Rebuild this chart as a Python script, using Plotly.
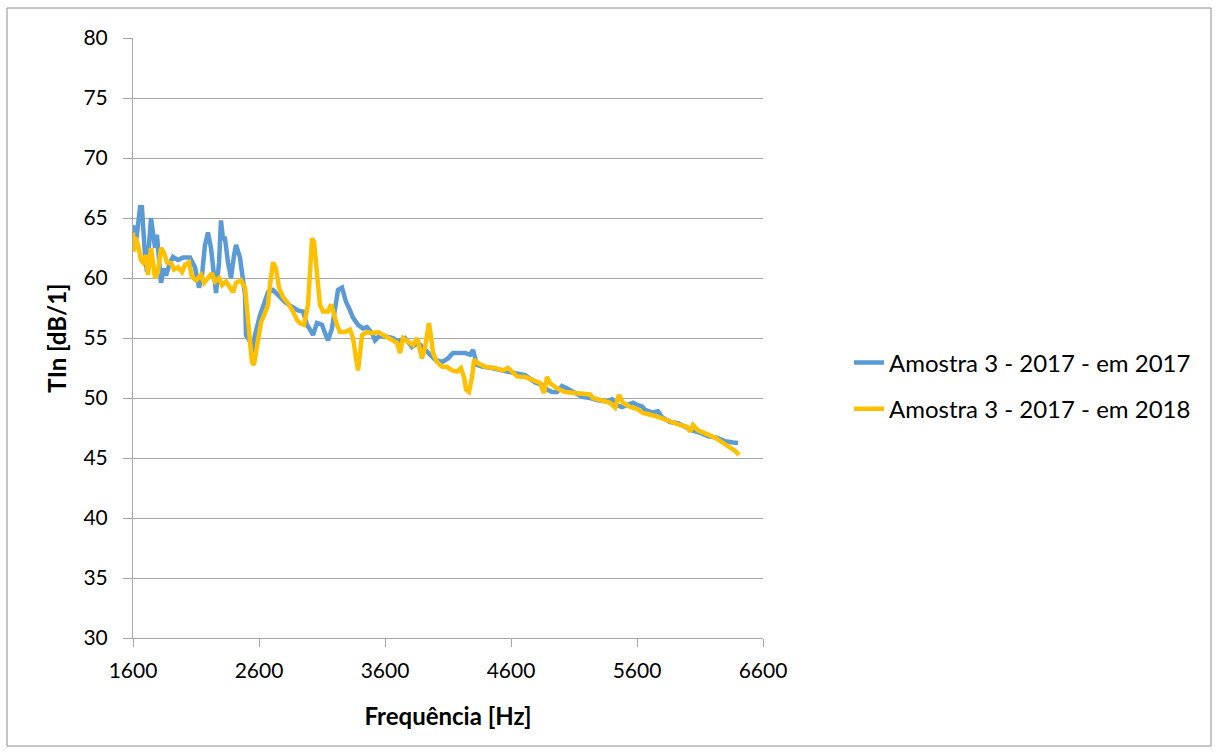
import plotly.graph_objects as go

# Amostra 3 - 2017, measured in 2017
freq_2017 = [1600, 1624, 1656, 1671, 1695, 1711, 1743, 1759, 1775, 1790, 1822, 1846, 1862, 1894,
             1917, 1957, 1997, 2052, 2092, 2124, 2148, 2171, 2195, 2219, 2243, 2259, 2283, 2298,
             2314, 2330, 2354, 2378, 2402, 2418, 2449, 2465, 2489, 2497, 2529, 2544, 2568, 2608,
             2648, 2671, 2711, 2751, 2806, 2862, 2910, 2949, 2981, 3005, 3029, 3060, 3100, 3124,
             3148, 3179, 3203, 3227, 3259, 3291, 3314, 3346, 3386, 3425, 3457, 3497, 3521, 3561,
             3616, 3664, 3703, 3759, 3814, 3862, 3902, 3941, 3997, 4053, 4100, 4140, 4180, 4235,
             4275, 4299, 4330, 4378, 4449, 4513, 4568, 4616, 4688, 4711, 4791, 4846, 4886, 4926,
             4965, 5005, 5045, 5092, 5164, 5227, 5291, 5362, 5402, 5442, 5481, 5521, 5569, 5608,
             5640, 5664, 5719, 5767, 5799, 5862, 5926, 5981, 6037, 6100, 6164, 6235, 6299, 6362,
             6402]
tln_2017 = [64.4, 63.0, 65.9, 65.9, 61.9, 60.5, 65.0, 63.8, 62.5, 63.6, 59.6, 60.8, 60.2, 61.3,
            61.75, 61.5, 61.7, 61.7, 60.9, 59.2, 60.25, 62.75, 63.8, 62.5, 60.25, 58.75, 61.3, 64.8,
            63.3, 63.3, 61.3, 60.0, 61.9, 62.75, 61.7, 60.25, 58.6, 55.25, 54.7, 53.8, 55.25, 56.9,
            58.3, 58.8, 59.0, 58.6, 58.0, 57.6, 57.3, 57.2, 56.1, 55.7, 55.25, 56.25, 56.1, 55.4,
            54.8, 55.8, 57.5, 59.0, 59.2, 58.0, 57.5, 56.7, 56.1, 55.8, 55.9, 55.4, 54.8, 55.25,
            55.1, 55.0, 54.7, 55.0, 54.25, 54.6, 54.2, 53.75, 53.2, 53.0, 53.3, 53.75, 53.75, 53.75,
            53.6, 54.0, 52.75, 52.6, 52.5, 52.3, 52.2, 52.1, 51.9, 51.9, 51.3, 51.1, 50.7, 50.5,
            50.5, 51.0, 50.8, 50.5, 50.1, 50.0, 49.8, 49.7, 49.9, 49.4, 49.25, 49.4, 49.6, 49.4,
            49.3, 49.0, 48.8, 48.9, 48.4, 48.0, 47.9, 47.6, 47.3, 47.1, 46.8, 46.7, 46.4, 46.3,
            46.25]

# Amostra 3 - 2017, measured in 2018
freq_2018 = [1600, 1608, 1616, 1640, 1663, 1679, 1703, 1719, 1743, 1759, 1775, 1798, 1822, 1846,
             1870, 1902, 1925, 1957, 1989, 2013, 2044, 2068, 2100, 2140, 2164, 2195, 2227, 2251,
             2283, 2306, 2338, 2370, 2394, 2418, 2457, 2489, 2505, 2529, 2544, 2560, 2576, 2600,
             2616, 2656, 2671, 2687, 2711, 2735, 2759, 2791, 2830, 2870, 2902, 2925, 2957, 2989,
             3005, 3021, 3037, 3060, 3084, 3108, 3148, 3172, 3187, 3219, 3243, 3283, 3322, 3346,
             3370, 3386, 3402, 3418, 3457, 3497, 3545, 3584, 3624, 3664, 3695, 3719, 3743, 3783,
             3822, 3854, 3878, 3894, 3918, 3941, 3949, 3965, 3981, 4013, 4053, 4092, 4132, 4172,
             4203, 4227, 4243, 4267, 4291, 4307, 4338, 4394, 4473, 4537, 4576, 4608, 4648, 4711,
             4775, 4830, 4862, 4886, 4910, 4965, 5029, 5108, 5172, 5227, 5251, 5323, 5386, 5426,
             5457, 5489, 5545, 5600, 5648, 5743, 5807, 5878, 5942, 5997, 6021, 6044, 6084, 6156,
             6219, 6283, 6338, 6378, 6410]
tln_2018 = [63.8, 62.2, 63.4, 62.75, 61.5, 61.3, 61.9, 60.25, 62.5, 61.3, 60.0, 60.5, 62.5, 62.1,
            61.3, 61.25, 60.7, 60.9, 60.5, 61.1, 61.3, 60.1, 59.8, 60.25, 59.6, 60.0, 60.4, 59.7,
            60.0, 59.4, 59.7, 59.2, 58.8, 59.6, 59.8, 59.2, 57.5, 55.25, 53.0, 52.75, 53.8, 55.25,
            56.3, 57.3, 57.75, 59.4, 61.3, 60.8, 59.2, 58.4, 57.9, 57.2, 56.5, 56.25, 56.1, 57.75,
            60.5, 63.3, 63.0, 60.25, 57.75, 57.2, 57.2, 57.8, 57.2, 56.1, 55.5, 55.5, 55.7, 55.0,
            53.3, 52.3, 53.8, 55.25, 55.5, 55.4, 55.5, 55.25, 55.0, 54.75, 54.6, 53.75, 55.0, 54.7,
            54.4, 55.0, 54.0, 53.3, 54.25, 55.9, 56.25, 55.1, 53.75, 53.0, 52.6, 52.6, 52.3, 52.2,
            52.5, 51.75, 50.7, 50.5, 51.75, 53.2, 52.9, 52.6, 52.5, 52.3, 52.5, 52.2, 51.8, 51.75,
            51.5, 51.25, 50.4, 51.75, 51.25, 50.8, 50.5, 50.4, 50.3, 50.3, 50.0, 49.8, 49.6, 49.2,
            50.25, 49.6, 49.25, 49.1, 48.75, 48.5, 48.3, 48.0, 47.75, 47.6, 47.2, 47.75, 47.3, 47.0,
            46.7, 46.25, 45.9, 45.6, 45.25]

series_names = ["Amostra 3 - 2017 - em 2017", "Amostra 3 - 2017 - em 2018"]
x_ticks = [1600, 2600, 3600, 4600, 5600, 6600]
y_ticks = [30, 35, 40, 45, 50, 55, 60, 65, 70, 75, 80]

FONT = "Lato, 'Open Sans', sans-serif"
GRID = "#A6A6A6"

fig = go.Figure()
fig.add_trace(go.Scatter(x=freq_2017, y=tln_2017, mode="lines", name=series_names[0],
                         legendgroup="a", line=dict(color="#5B9BD5", width=4.5)))
fig.add_trace(go.Scatter(x=freq_2018, y=tln_2018, mode="lines", name=series_names[1],
                         legendgroup="b", line=dict(color="#FFC000", width=4.5)))

fig.update_layout(
    width=1218, height=754,
    margin=dict(l=133, r=455, t=38, b=116),
    paper_bgcolor="white", plot_bgcolor="white",
    font=dict(family=FONT, size=21, color="black"),
    showlegend=True,
    legend=dict(x=1.1365, y=0.42, xanchor="left", yanchor="middle",
                traceorder="grouped", tracegroupgap=12,
                font=dict(family=FONT, size=24, color="black"),
                bgcolor="rgba(0,0,0,0)"),
    xaxis=dict(range=[1600, 6600], tickvals=x_ticks, ticktext=[str(v) for v in x_ticks],
               showgrid=False, zeroline=False, showline=True, linecolor=GRID, linewidth=1,
               ticks="outside", ticklen=8, tickcolor=GRID, ticklabelstandoff=6,
               tickfont=dict(family=FONT, size=21),
               title=dict(text="<b>Frequência [Hz]</b>", standoff=26,
                          font=dict(family=FONT, size=24))),
    yaxis=dict(range=[30, 80], tickvals=y_ticks, ticktext=[str(v) for v in y_ticks],
               showgrid=True, gridcolor=GRID, gridwidth=1, zeroline=False,
               showline=True, linecolor=GRID, linewidth=1,
               ticks="outside", ticklen=9, tickcolor=GRID, ticklabelstandoff=11,
               tickfont=dict(family=FONT, size=21),
               title=dict(text="<b>TIn [dB/1]</b>", standoff=10,
                          font=dict(family=FONT, size=24))),
    shapes=[dict(type="rect", xref="paper", yref="paper",
                 x0=(7 - 133) / 630, x1=(1211 - 133) / 630,
                 y0=(638 - 746) / 600, y1=(638 - 8) / 600,
                 line=dict(color="#8C8C8C", width=1), fillcolor="rgba(0,0,0,0)", layer="below")],
)

fig.write_html("out.html")
